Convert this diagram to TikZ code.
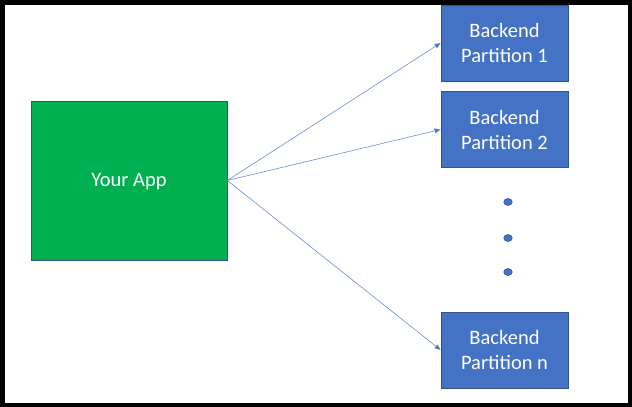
\documentclass[tikz,border=0pt]{standalone}
\usepackage{fontspec}
\setmainfont{Carlito}
\usetikzlibrary{arrows.meta,shapes.geometric}
\definecolor{appgreen}{RGB}{0,176,80}
\definecolor{partblue}{RGB}{68,114,196}
\definecolor{partedge}{RGB}{47,82,143}
\tikzset{
  partbox/.style={draw=partedge,fill=partblue,line width=0.8pt,text=white,align=center,
    minimum width=127pt,minimum height=76pt,font=\fontsize{20.5}{25}\selectfont},
  appbox/.style={draw=partedge,fill=appgreen,line width=0.6pt,text=white,
    minimum width=196pt,minimum height=159pt,font=\fontsize{20.5}{25}\selectfont},
  dotmark/.style={ellipse,draw=partedge,fill=partblue,line width=0.6pt,
    inner sep=0pt,minimum width=8.5pt,minimum height=7pt},
  link/.style={draw=partblue!80,line width=0.6pt,-{Triangle[length=6pt,width=5pt,fill=partblue]}}
}
\begin{document}
\begin{tikzpicture}[x=1pt,y=-1pt]
\useasboundingbox (0,0) rectangle (632,407);
%okvir
\draw[line width=4.5pt] (2.25,2.25) rectangle (629.75,404.75);

%aplikacija
\node[appbox] (app) at (129,180.5) {};
\node[text=white,font=\fontsize{20.5}{25}\selectfont] (applabel) at (129,182) {Your App};

%particije
\node[partbox] (part1) at (504.5,43) {Backend\\Partition 1};
\node[partbox] (part2) at (504.5,129.5) {Backend\\Partition 2};
\node[partbox] (partn) at (504.5,350) {Backend\\Partition n};

%tocke vmes
\foreach \y/\name in {202/dotA,238/dotB,272/dotC}
  \node[dotmark] (\name) at (508,\y) {};

%povezave
\draw[link] (app.east) -- (part1.west);
\draw[link] (app.east) -- (part2.west);
\draw[link] (app.east) -- (partn.west);

\end{tikzpicture}
\end{document}
